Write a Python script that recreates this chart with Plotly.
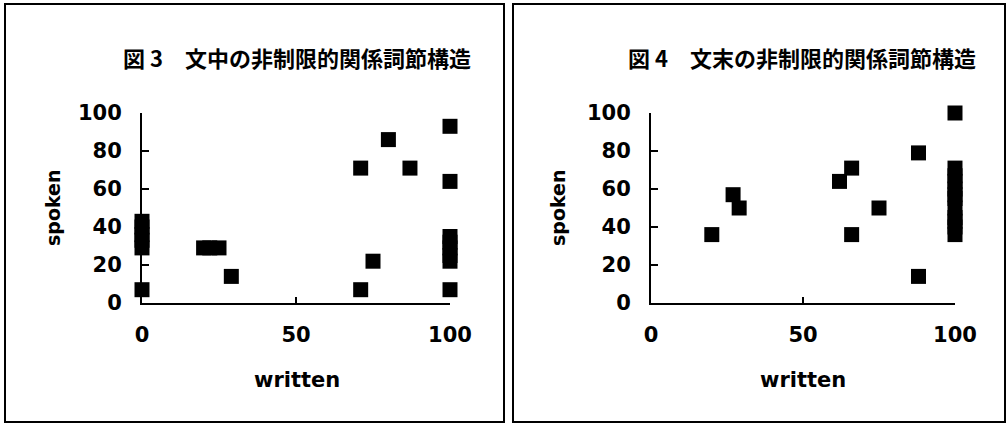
import plotly.graph_objects as go

# ---- data ----
written_3 = [0, 0, 0, 0, 0, 0, 20, 22, 25, 29, 71, 71, 75, 80, 87,
             100, 100, 100, 100, 100, 100, 100, 100]
spoken_3 = [7, 29, 33, 36, 40, 43, 29, 29, 29, 14, 7, 71, 22, 86, 71,
            93, 64, 35, 32, 29, 25, 22, 7]

written_4 = [20, 27, 29, 62, 66, 66, 75, 88, 88, 100,
             100, 100, 100, 100, 100, 100, 100, 100, 100, 100, 100]
spoken_4 = [36, 57, 50, 64, 71, 36, 50, 79, 14, 100,
            36, 40, 43, 45, 50, 55, 57, 60, 64, 67, 71]

title_3 = "図 3　文中の非制限的関係詞節構造"
title_4 = "図 4　文末の非制限的関係詞節構造"
x_label = "written"
y_label = "spoken"
x_ticks = [0, 50, 100]
y_ticks = [0, 20, 40, 60, 80, 100]

W, H = 1008, 426
def px(x):
    return x / W
def py(y):
    return 1 - y / H

FONT = "DejaVu Sans"
marker = dict(symbol="square", size=15, color="black", line=dict(width=0))

fig = go.Figure()
fig.add_trace(go.Scatter(x=written_3, y=spoken_3, mode="markers", marker=marker,
                         cliponaxis=False, xaxis="x", yaxis="y", showlegend=False))
fig.add_trace(go.Scatter(x=written_4, y=spoken_4, mode="markers", marker=marker,
                         cliponaxis=False, xaxis="x2", yaxis="y2", showlegend=False))

def xax(dom, anchor):
    return dict(domain=dom, anchor=anchor, range=[0, 100], tickvals=x_ticks,
                ticks="inside", ticklen=6, tickwidth=2, tickcolor="black",
                showline=True, linecolor="black", linewidth=2, showgrid=False,
                zeroline=False, ticklabelstandoff=12, automargin=False,
                tickfont=dict(family=FONT, size=21, color="black", weight="bold"))

def yax(dom, anchor):
    return dict(domain=dom, anchor=anchor, range=[0, 100], tickvals=y_ticks,
                ticks="inside", ticklen=7, tickwidth=2, tickcolor="black",
                showline=True, linecolor="black", linewidth=2, showgrid=False,
                zeroline=False, ticklabelstandoff=14, automargin=False,
                tickfont=dict(family=FONT, size=21, color="black", weight="bold"))

ydom = [py(303), py(113)]
fig.update_layout(
    template="none",
    width=W, height=H, margin=dict(l=0, r=0, t=0, b=0, pad=0, autoexpand=False),
    paper_bgcolor="white", plot_bgcolor="white",
    xaxis=xax([px(142), px(450)], "y"),
    yaxis=yax(ydom, "x"),
    xaxis2=xax([px(651), px(955)], "y2"),
    yaxis2=yax(ydom, "x2"),
)

annos = []
for cx, t, ax_x in [(297, title_3, 297), (802, title_4, 803)]:
    annos.append(dict(x=px(cx), y=py(57), xref="paper", yref="paper", text="<b>" + t + "</b>",
                      showarrow=False, xanchor="center", yanchor="middle",
                      font=dict(family="Noto Sans CJK JP", size=22, color="black")))
    annos.append(dict(x=px(ax_x), y=py(380), xref="paper", yref="paper", text="<b>" + x_label + "</b>",
                      showarrow=False, xanchor="center", yanchor="middle",
                      font=dict(family=FONT, size=21, color="black")))
for cx in [53, 558]:
    annos.append(dict(x=px(cx), y=py(208), xref="paper", yref="paper", text="<b>" + y_label + "</b>",
                      showarrow=False, textangle=-90, xanchor="center", yanchor="middle",
                      font=dict(family=FONT, size=19, color="black")))
fig.update_layout(annotations=annos)

shapes = []
for x0, x1 in [(5, 504), (513, 1005)]:
    shapes.append(dict(type="rect", xref="paper", yref="paper",
                       x0=px(x0), x1=px(x1), y0=py(422), y1=py(4),
                       line=dict(color="black", width=2)))
fig.update_layout(shapes=shapes)

fig.write_html(
    "out.html",
    config={"displayModeBar": False},
    post_script="document.documentElement.style.margin='0';document.body.style.margin='0';"
                "document.body.style.overflow='hidden';",
)
